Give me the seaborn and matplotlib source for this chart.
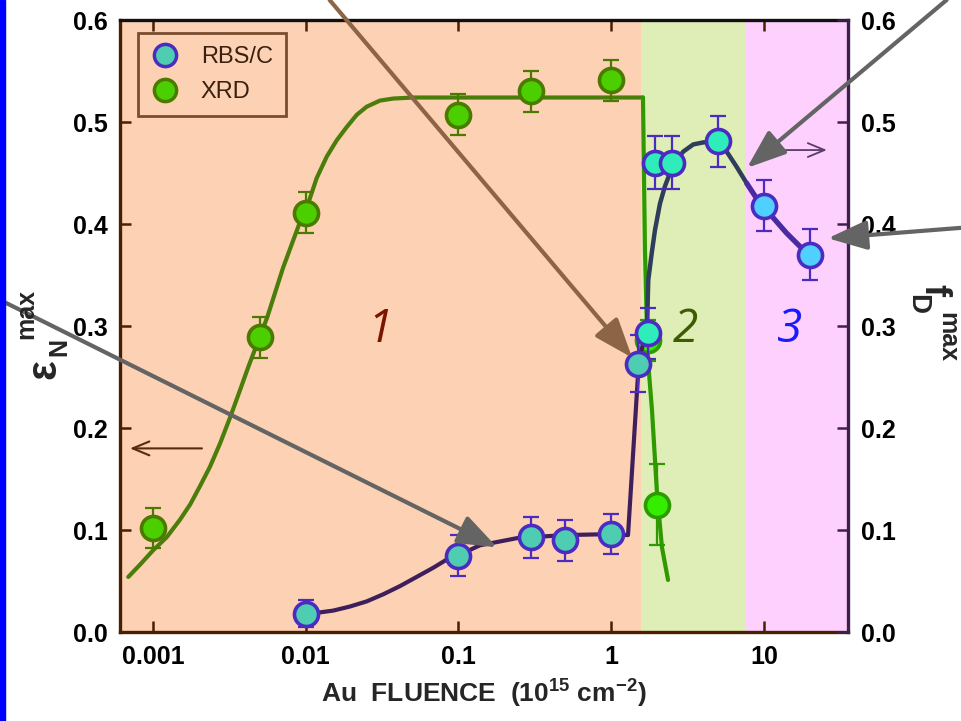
import numpy as np
import matplotlib
matplotlib.use("Agg")
import matplotlib.pyplot as plt
from matplotlib.lines import Line2D
from matplotlib.patches import Rectangle
from matplotlib.ticker import FixedLocator, NullLocator, FuncFormatter
import seaborn as sns
import pandas as pd

# XRD: strain epsilon_N max (left axis)
xrd_fluence = [0.001, 0.005, 0.01, 0.1, 0.3, 1.0, 1.75, 2.0]
xrd_eps = [0.102, 0.289, 0.411, 0.507, 0.530, 0.541, 0.286, 0.125]
xrd_err = [0.02, 0.02, 0.02, 0.02, 0.02, 0.02, 0.02, 0.04]

# RBS/C: disorder f_D max (right axis)
rbs_fluence = [0.01, 0.1, 0.3, 0.5, 1.0, 1.5, 1.75, 1.93, 2.5, 5.0, 10.0, 20.0]
rbs_fd = [0.018, 0.075, 0.093, 0.090, 0.096, 0.263, 0.293, 0.460, 0.460, 0.481, 0.418, 0.370]
rbs_err = [0.013, 0.02, 0.02, 0.02, 0.02, 0.028, 0.025, 0.026, 0.026, 0.025, 0.025, 0.025]

# guide-to-the-eye curves
xrd_fit_x = [0.000689, 0.000822, 0.001, 0.00123, 0.0015, 0.00175, 0.00203, 0.00236,
             0.00275, 0.00319, 0.00371, 0.00421, 0.00465, 0.00558, 0.0071, 0.00917,
             0.01, 0.01179, 0.01372, 0.01594, 0.01853, 0.02156, 0.02506, 0.03062,
             0.03742, 0.0506, 0.0684, 0.1, 1.614,
             1.663, 1.714, 1.739, 1.848, 1.994, 2.149, 2.355]
xrd_fit_y = [0.054, 0.066, 0.080, 0.093, 0.110, 0.125, 0.143, 0.162,
             0.185, 0.210, 0.237, 0.260, 0.277, 0.308, 0.357, 0.402,
             0.413, 0.445, 0.466, 0.482, 0.495, 0.507, 0.515, 0.521,
             0.523, 0.524, 0.524, 0.524, 0.524,
             0.375, 0.296, 0.267, 0.218, 0.136, 0.083, 0.051]
rbs_fit_x = [0.01, 0.01208, 0.01515, 0.01949, 0.02506, 0.03219, 0.0414, 0.05324,
             0.06839, 0.08372, 0.1, 0.125, 0.1383, 0.2415, 0.3, 0.5, 1.0, 1.288,
             1.519, 1.714, 1.748, 1.840, 1.934, 2.085, 2.248, 2.425, 2.683, 2.964,
             3.444, 4.006, 4.946, 5.699, 6.627, 7.703, 8.958, 9.90, 11.51, 14.08,
             17.21, 19.9]
rbs_fit_y = [0.018, 0.019, 0.021, 0.025, 0.030, 0.037, 0.045, 0.054,
             0.063, 0.071, 0.075, 0.082, 0.085, 0.092, 0.093, 0.095, 0.096, 0.095,
             0.267, 0.296, 0.345, 0.371, 0.394, 0.420, 0.437, 0.450, 0.463, 0.471,
             0.478, 0.480, 0.481, 0.471, 0.456, 0.440, 0.425, 0.418, 0.406, 0.391,
             0.378, 0.370]

# fluence regimes 1 | 2 | 3
region_edges = [1.57, 7.54]
region_names = ["1", "2", "3"]

xlim = (0.000608, 35.5)
ylim = (0.0, 0.6)

bg_colors = ["#FDD1B3", "#DFEDB6", "#FDD0FD"]
label_colors = ["#7A1500", "#3D5C00", "#1A1AFF"]
xrd_face = ["#4CCF00", "#33EE00", "#33EE00"]
xrd_edge = ["#4A7A00", "#2E9A00", "#2E9A00"]
xrd_line = ["#4B7D0A", "#2E9A00", "#2E9A00"]
rbs_face = ["#4ECDB3", "#2EEDBB", "#50D0FF"]
rbs_edge = "#4B2BC0"
rbs_line = ["#3E1F5C", "#2D3D5A", "#4A2AA0"]

sns.set_theme(style="ticks")
plt.rcParams["font.family"] = ["Liberation Sans", "DejaVu Sans"]
plt.rcParams["mathtext.fontset"] = "custom"
plt.rcParams["mathtext.rm"] = "Liberation Sans:bold"
plt.rcParams["mathtext.it"] = "Liberation Sans:bold"
plt.rcParams["mathtext.bf"] = "Liberation Sans:bold"

W, H = 961, 721
fig = plt.figure(figsize=(W / 100, H / 100), dpi=100)
ax = fig.add_axes([120 / W, 1 - 632 / H, 728 / W, 612 / H])
ax2 = ax.twinx()
ax.set_xscale("log")
ax.set_xlim(*xlim)
ax.set_ylim(*ylim)
ax2.set_ylim(*ylim)

# background bands
bounds = [xlim[0]] + region_edges + [xlim[1]]
for i in range(3):
    ax.axvspan(bounds[i], bounds[i + 1], color=bg_colors[i], lw=0, zorder=0)


def region_of(x):
    return np.digitize(np.asarray(x), region_edges)


def draw_fit(axis, xs, ys, colors, lw):
    xs = np.asarray(xs)
    ys = np.asarray(ys)
    reg = region_of(xs)
    for r in np.unique(reg):
        idx = list(np.where(reg == r)[0])
        if idx[-1] + 1 < len(xs):
            idx.append(idx[-1] + 1)
        seg = pd.DataFrame({"x": xs[idx], "y": ys[idx]})
        sns.lineplot(data=seg, x="x", y="y", sort=False, estimator=None,
                     color=colors[r], lw=lw[r], ax=axis, zorder=2)


draw_fit(ax, xrd_fit_x, xrd_fit_y, xrd_line, [3.0, 3.0, 3.0])
draw_fit(ax2, rbs_fit_x, rbs_fit_y, rbs_line, [3.0, 3.2, 3.8])

# XRD points
xrd = pd.DataFrame({"x": xrd_fluence, "y": xrd_eps, "e": xrd_err})
xrd["reg"] = region_of(xrd["x"])
for r, sub in xrd.groupby("reg"):
    ax.errorbar(sub["x"], sub["y"], yerr=sub["e"], fmt="none", ecolor=xrd_edge[r],
                elinewidth=1.6, capsize=6, capthick=1.6, zorder=3)
    sns.scatterplot(data=sub, x="x", y="y", ax=ax, s=300, color=xrd_face[r],
                    edgecolor=xrd_edge[r], linewidth=2.6, zorder=4, legend=False)

# RBS/C points
rbs = pd.DataFrame({"x": rbs_fluence, "y": rbs_fd, "e": rbs_err})
rbs["reg"] = region_of(rbs["x"])
ax2.errorbar(rbs["x"], rbs["y"], yerr=rbs["e"], fmt="none", ecolor=rbs_edge,
             elinewidth=1.6, capsize=6, capthick=1.6, zorder=3)
for r, sub in rbs.groupby("reg"):
    sns.scatterplot(data=sub, x="x", y="y", ax=ax2, s=300, color=rbs_face[r],
                    edgecolor=rbs_edge, linewidth=2.6, zorder=4, legend=False)

# regime numbers
for name, xt, col in zip(region_names, [0.0306, 3.08, 14.8], label_colors):
    ax.text(xt, 0.296, name, color=col, fontsize=33, style="italic",
            family=["Open Sans", "DejaVu Sans"], ha="center", va="center", zorder=5)

# axis-direction arrows
ax.annotate("", xy=(0.000707, 0.18), xytext=(0.00209, 0.18),
            arrowprops=dict(arrowstyle="->,head_length=0.6,head_width=0.25",
                            color="#5A2A10", lw=1.5, mutation_scale=20,
                            shrinkA=0, shrinkB=0), zorder=5)
ax2.annotate("", xy=(25.8, 0.4725), xytext=(9.42, 0.4725),
             arrowprops=dict(arrowstyle="->,head_length=0.6,head_width=0.25",
                             color="#5A3A6A", lw=1.3, mutation_scale=20,
                             shrinkA=0, shrinkB=0), zorder=5)

# pointer arrows from outside the frame
pointers = [
    ((1.37, 0.269), (0.343, 1.0), "#8C6446"),
    ((0.179, 0.083), (0.0, 0.584), "#646464"),
    ((7.74, 0.455), (0.985, 1.0), "#646464"),
    ((26.2, 0.386), (1.0, 0.684), "#646464"),
]
for head, tail, col in pointers:
    ax2.annotate("", xy=head, xycoords="data", xytext=tail,
                 textcoords="figure fraction", annotation_clip=False,
                 arrowprops=dict(arrowstyle="-|>,head_length=1.2,head_width=0.45",
                                 color=col, lw=3, mutation_scale=20,
                                 shrinkA=0, shrinkB=0), zorder=10)

# legend
handles = [
    Line2D([], [], ls="none", marker="o", markersize=16, mfc=rbs_face[0],
           mec=rbs_edge, mew=2.5),
    Line2D([], [], ls="none", marker="o", markersize=16, mfc=xrd_face[0],
           mec=xrd_edge[0], mew=2.5),
]
leg = ax2.legend(handles, ["RBS/C", "XRD"], loc="upper left",
                 bbox_to_anchor=(0.025, 0.979), borderaxespad=0, fontsize=17,
                 labelcolor="#3A2010", frameon=True, fancybox=False,
                 handlelength=1.2, handletextpad=0.9, labelspacing=0.55,
                 borderpad=0.55)
leg.get_frame().set_edgecolor("#5A2A10")
leg.get_frame().set_linewidth(2)
leg.get_frame().set_facecolor("none")

# axes cosmetics
ax.xaxis.set_major_locator(FixedLocator([0.001, 0.01, 0.1, 1, 10]))
ax.xaxis.set_minor_locator(NullLocator())
ax.xaxis.set_major_formatter(FuncFormatter(lambda v, p: "%g" % v))
yt = [0.0, 0.1, 0.2, 0.3, 0.4, 0.5, 0.6]
for a in (ax, ax2):
    a.yaxis.set_major_locator(FixedLocator(yt))
    a.yaxis.set_major_formatter(FuncFormatter(lambda v, p: "%.1f" % v))
    a.set_xlabel("")
    a.set_ylabel("")

ax.tick_params(axis="x", which="major", direction="in", top=True, bottom=True,
               length=8, width=1.8, color="#4A1E00", labelsize=18, pad=9)
ax.tick_params(axis="y", direction="in", left=True, right=False, length=8,
               width=1.8, color="#4A1E00", labelsize=18, pad=9)
ax2.tick_params(axis="y", direction="in", right=True, length=8, width=1.8,
                color="#3F1F4F", labelsize=18, pad=9)
for lab in ax.get_xticklabels() + ax.get_yticklabels() + ax2.get_yticklabels():
    lab.set_fontweight("bold")
    lab.set_color("black")

for s in ax.spines.values():
    s.set_linewidth(2.4)
ax.spines["left"].set_color("#4A1E00")
ax.spines["bottom"].set_color("#4A1E00")
ax.spines["top"].set_color("#111111")
ax.spines["right"].set_visible(False)
for k in ("left", "top", "bottom"):
    ax2.spines[k].set_visible(False)
ax2.spines["right"].set_color("#3F1F4F")
ax2.spines["right"].set_linewidth(2.4)

ax.set_xlabel(r"Au  FLUENCE  (10$^{15}$ cm$^{-2}$)", fontsize=19,
              fontweight="bold", labelpad=7)


def px_text(x, y, s, size, rot):
    fig.text(x / W, 1 - y / H, s, fontsize=size, fontweight="bold",
             rotation=rot, ha="center", va="center", rotation_mode="anchor")


# left axis title: eps_N^max
px_text(44, 369, "\u03b5", 30, 90)
px_text(59, 347, "N", 18, 90)
px_text(26, 314, "max", 18, 90)
# right axis title: f_D^max
px_text(934, 290, "f", 26, -90)
px_text(917, 304, "D", 20, -90)
px_text(947, 337, "max", 18, -90)

fig.patches.append(Rectangle((0, 0), 5 / W, 1, transform=fig.transFigure,
                             color="#0000FF", zorder=0))

fig.savefig("out.png", dpi=100)
